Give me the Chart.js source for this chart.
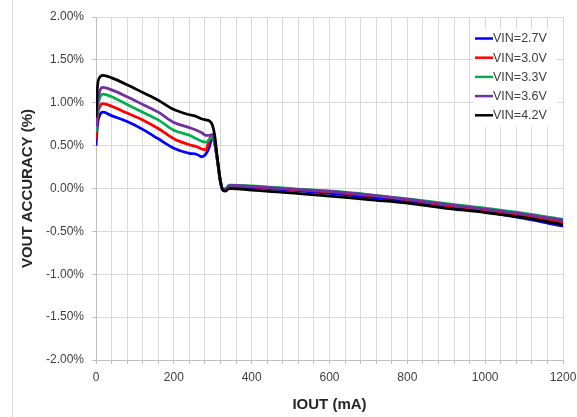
<!DOCTYPE html>
<html>
<head>
<meta charset="utf-8">
<script src="https://cdn.jsdelivr.net/npm/chart.js@4/dist/chart.umd.min.js"></script>
<style>
html,body{margin:0;padding:0;background:#fff;}
#wrap{position:relative;width:577px;height:417px;}
#edge{position:absolute;left:12px;top:0;width:1px;height:417px;background:#d9d9d9;}
canvas{position:absolute;left:0;top:0;}
</style>
</head>
<body>
<div id="wrap"><div id="edge"></div><canvas id="c" width="577" height="417"></canvas></div>
<script>
// IOUT (mA) sample points
const iout = [0, 4, 10, 18, 40, 80, 120, 160, 200, 240, 258, 272, 282, 291, 299, 305, 312, 320, 326, 333, 342, 350, 400, 500, 632, 700, 800, 890, 1000, 1100, 1200];
// VOUT accuracy (%) per input voltage
const vin27 = [0.50, 0.75, 0.86, 0.89, 0.85, 0.78, 0.69, 0.58, 0.47, 0.41, 0.40, 0.37, 0.40, 0.48, 0.60, 0.52, 0.32, 0.06, -0.02, -0.02, 0.015, 0.015, 0.01, -0.02, -0.07, -0.10, -0.145, -0.20, -0.27, -0.35, -0.44];
const vin30 = [0.58, 0.85, 0.96, 0.99, 0.96, 0.88, 0.80, 0.70, 0.58, 0.51, 0.49, 0.46, 0.45, 0.57, 0.62, 0.53, 0.33, 0.07, -0.01, -0.01, 0.025, 0.025, 0.02, -0.01, -0.05, -0.08, -0.13, -0.19, -0.25, -0.32, -0.39];
const vin33 = [0.66, 0.93, 1.06, 1.10, 1.07, 0.98, 0.89, 0.80, 0.68, 0.62, 0.58, 0.55, 0.54, 0.57, 0.60, 0.53, 0.33, 0.08, 0.0, 0.0, 0.04, 0.04, 0.03, 0.0, -0.04, -0.07, -0.12, -0.17, -0.23, -0.29, -0.36];
const vin36 = [0.72, 1.00, 1.14, 1.18, 1.15, 1.07, 0.98, 0.89, 0.77, 0.71, 0.68, 0.65, 0.62, 0.62, 0.63, 0.55, 0.33, 0.08, -0.01, -0.01, 0.03, 0.035, 0.025, -0.005, -0.045, -0.075, -0.125, -0.18, -0.24, -0.30, -0.37];
const vin42 = [0.83, 1.20, 1.30, 1.32, 1.29, 1.21, 1.12, 1.03, 0.92, 0.86, 0.84, 0.81, 0.80, 0.79, 0.74, 0.62, 0.35, 0.08, -0.02, -0.03, 0.0, 0.0, -0.02, -0.05, -0.10, -0.13, -0.17, -0.225, -0.28, -0.34, -0.42];
const seriesNames = ["VIN=2.7V", "VIN=3.0V", "VIN=3.3V", "VIN=3.6V", "VIN=4.2V"];
const seriesColors = ["#0000ff", "#ff0000", "#00b050", "#7030a0", "#000000"];
const seriesValues = [vin27, vin30, vin33, vin36, vin42];
const xLabelStep = 200;

const FONT = "'Liberation Sans', Arial, sans-serif";

const datasets = seriesValues.map((vals, i) => ({
  label: seriesNames[i],
  data: iout.map((x, k) => ({x: x, y: vals[k]})),
  borderColor: seriesColors[i],
  backgroundColor: seriesColors[i],
  borderWidth: 2.75,
  pointRadius: 0,
  fill: false,
  cubicInterpolationMode: 'monotone',
  order: seriesValues.length - 1 - i
}));

const insideLegend = {
  id: 'insideLegend',
  afterDraw(chart) {
    const ctx = chart.ctx;
    const a = chart.chartArea;
    const left = a.right - 90, top = a.top + 12, w = 84, h = 98, gap = 19.2;
    ctx.save();
    ctx.fillStyle = '#ffffff';
    ctx.fillRect(left, top, w, h);
    ctx.font = '12.5px ' + FONT;
    ctx.textBaseline = 'middle';
    chart.data.datasets.forEach((ds, i) => {
      const y = top + 9.5 + i * gap;
      ctx.strokeStyle = ds.borderColor;
      ctx.lineWidth = 2.5;
      ctx.beginPath();
      ctx.moveTo(left + 2, y);
      ctx.lineTo(left + 20, y);
      ctx.stroke();
      ctx.fillStyle = '#404040';
      ctx.fillText(ds.label, left + 20, y + 0.5);
    });
    ctx.restore();
  }
};

new Chart(document.getElementById('c'), {
  type: 'line',
  data: {datasets: datasets},
  options: {
    responsive: false,
    animation: false,
    layout: {padding: {left: 19, right: 14, top: 17, bottom: 3}},
    plugins: {legend: {display: false}, tooltip: {enabled: false}},
    scales: {
      x: {
        type: 'linear',
        min: 0, max: 1200,
        afterFit: s => { s.height = 54; s.paddingRight = 0; s.paddingLeft = 0; },
        ticks: {
          stepSize: 40, autoSkip: false, maxRotation: 0, padding: 6,
          color: '#404040', font: {family: FONT, size: 12},
          callback: v => (v % xLabelStep === 0 ? String(v) : '')
        },
        grid: {color: '#d9d9d9', lineWidth: 1, tickLength: 4, tickColor: '#bfbfbf'},
        border: {color: '#bfbfbf'},
        title: {display: true, text: 'IOUT (mA)', color: '#262626', font: {family: FONT, size: 15, weight: 'bold'}, padding: {top: 4, bottom: 0}}
      },
      y: {
        min: -2, max: 2,
        afterFit: s => { s.width = 77; },
        ticks: {
          stepSize: 0.5, padding: 8,
          color: '#404040', font: {family: FONT, size: 12},
          callback: v => v.toFixed(2) + '%'
        },
        grid: {color: '#d9d9d9', lineWidth: 1, tickLength: 4, tickColor: '#bfbfbf'},
        border: {color: '#bfbfbf'},
        title: {display: true, text: 'VOUT ACCURACY (%)', color: '#262626', font: {family: FONT, size: 15, weight: 'bold'}, padding: {top: 0, bottom: 0}}
      }
    }
  },
  plugins: [insideLegend]
});
</script>
</body>
</html>
